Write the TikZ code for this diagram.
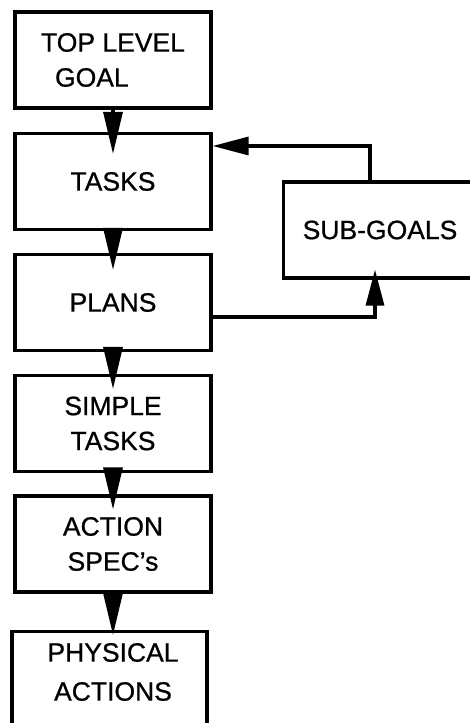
\documentclass[tikz,border=0pt]{standalone}
\usepackage{fontspec}
\setmainfont{Liberation Sans}[FakeBold=0.8]
\usetikzlibrary{arrows.meta}
\begin{document}
\begin{tikzpicture}[x=1pt,y=-1pt,
  stage/.style={draw, line width=3.2pt, minimum width=196pt, minimum height=96pt,
    inner sep=0pt, align=center, font=\fontsize{26.5}{35}\selectfont},
  caption/.style={inner sep=0pt, align=center, font=\fontsize{26.5}{39}\selectfont},
  flow/.style={line width=3.2pt, -{Triangle[length=42pt,width=19pt]}},
  back/.style={line width=3.2pt, -{Triangle[length=36pt,width=18pt]}},
]
\useasboundingbox (0,0) rectangle (470,723);
\clip (0,0) rectangle (470,723);

% the chain of stages
\node[stage, align=left] (top) at (113,60) {TOP LEVEL\\\hspace*{14pt}GOAL};
\node[stage] (tasks) at (113,181.5) {TASKS};
\node[stage] (plans) at (113,302.5) {PLANS};
\node[stage] (simple) at (113,423.5) {SIMPLE\\TASKS};
\node[stage] (spec) at (113,544) {ACTION\\SPEC's};
\node[stage, minimum width=195pt, minimum height=160pt, anchor=north] (phys) at (109.5,630) {};
\node[caption] (physlbl) at (113,672) {PHYSICAL\\ACTIONS};

% side box, running off the right edge
\node[stage, minimum width=0pt, inner xsep=19pt] (sg) at (380,230) {SUB-GOALS};

% downward flow
\draw[flow] (top.south) -- ([yshift=-22pt]tasks.north);
\draw[flow] (tasks.south) -- ([yshift=-17pt]plans.north);
\draw[flow] (plans.south) -- ([yshift=-15pt]simple.north);
\draw[flow] (simple.south) -- ([yshift=-15pt]spec.north);
\draw[flow] (spec.south) -- ([yshift=-5pt]phys.north -| spec.south);

% loop through the sub-goals
\coordinate (upturn) at (370,146);
\coordinate (outturn) at (375,317);
\draw[back] (upturn |- sg.north) -- (upturn) -- (upturn -| tasks.east);
\draw[back] (plans.east |- outturn) -- (outturn) -- ([yshift=10pt]sg.south -| outturn);
\end{tikzpicture}
\end{document}
